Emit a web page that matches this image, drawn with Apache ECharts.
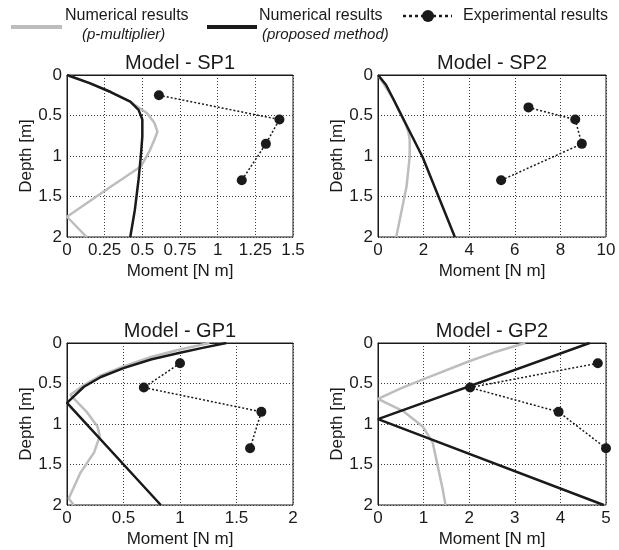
<!DOCTYPE html>
<html>
<head>
<meta charset="utf-8">
<script src="https://cdn.jsdelivr.net/npm/echarts@6/dist/echarts.min.js"></script>
<style>
  html, body { margin: 0; padding: 0; background: #fff; }
  #chart { width: 619px; height: 550px; }
</style>
</head>
<body>
<div id="chart"></div>
<script>
// values, [moment, depth]
const sp1Pmult = [[0, 0], [0.15, 0.1], [0.29, 0.21], [0.42, 0.33], [0.53, 0.47], [0.58, 0.59], [0.6, 0.7], [0.58, 0.8], [0.55, 0.93], [0.49, 1.13], [0.29, 1.38], [0, 1.75], [0.13, 2]];
const sp1Proposed = [[0, 0], [0.15, 0.1], [0.29, 0.21], [0.42, 0.33], [0.475, 0.43], [0.5, 0.55], [0.5, 0.76], [0.49, 1.0], [0.475, 1.29], [0.45, 1.67], [0.42, 2]];
const sp1Exp = [[0.61, 0.25], [1.41, 0.55], [1.32, 0.85], [1.16, 1.3]];

const sp2Pmult = [[0, 0], [0.66, 0.29], [1.2, 0.6], [1.33, 0.7], [1.39, 0.8], [1.39, 1.01], [1.25, 1.38], [0.8, 2]];
const sp2Proposed = [[0, 0], [0.35, 0.12], [0.66, 0.29], [1.25, 0.62], [1.95, 1.01], [3.37, 2]];
const sp2Exp = [[6.6, 0.4], [8.65, 0.55], [8.94, 0.85], [5.4, 1.3]];

const gp1Pmult = [[1.26, 0], [1.0, 0.08], [0.75, 0.17], [0.5, 0.29], [0.3, 0.4], [0.15, 0.52], [0.03, 0.64], [0.07, 0.7], [0.18, 0.86], [0.27, 1.03], [0.29, 1.15], [0.24, 1.35], [0.12, 1.6], [0.015, 1.92], [0.06, 2]];
const gp1Proposed = [[1.41, 0], [1.2, 0.06], [1.0, 0.12], [0.75, 0.2], [0.5, 0.31], [0.3, 0.42], [0.15, 0.54], [0.06, 0.66], [0, 0.74], [0.83, 2]];
const gp1Exp = [[1.0, 0.25], [0.68, 0.55], [1.72, 0.85], [1.62, 1.3]];

const gp2Pmult = [[3.23, 0], [2.55, 0.115], [2.0, 0.225], [1.0, 0.445], [0.5, 0.56], [0, 0.69], [0.55, 0.84], [0.98, 1.03], [1.2, 1.23], [1.31, 1.52], [1.42, 1.81], [1.48, 2]];
const gp2Proposed = [[4.64, 0], [0, 0.94], [4.95, 2]];
const gp2Exp = [[4.82, 0.25], [2.02, 0.55], [3.96, 0.85], [5.0, 1.3]];

const titles = ['Model - SP1', 'Model - SP2', 'Model - GP1', 'Model - GP2'];
const xMax = [1.5, 10, 2, 5];
const xStep = [0.25, 2, 0.5, 1];
const pmult = [sp1Pmult, sp2Pmult, gp1Pmult, gp2Pmult];
const proposed = [sp1Proposed, sp2Proposed, gp1Proposed, gp2Proposed];
const experimental = [sp1Exp, sp2Exp, gp1Exp, gp2Exp];

const font = 'Liberation Sans, Arial, sans-serif';
// plot boxes [left, top, width, height]
const boxes = [[67, 75, 226, 162], [378, 75, 228, 162], [67, 343, 226, 162], [378, 343, 228, 162]];

const grid = [], xAxis = [], yAxis = [], series = [], title = [];
boxes.forEach(function (b, i) {
    grid.push({ left: b[0], top: b[1], width: b[2], height: b[3], show: true, borderColor: '#1a1a1a', borderWidth: 1 });
    title.push({
        text: titles[i], left: b[0] + b[2] / 2, top: b[1] - 22, textAlign: 'center', padding: 0,
        textStyle: { fontFamily: font, fontSize: 20, fontWeight: 'normal', color: '#1a1a1a' }
    });
    xAxis.push({
        type: 'value', gridIndex: i, min: 0, max: xMax[i], interval: xStep[i],
        name: 'Moment [N m]', nameLocation: 'middle', nameGap: 26,
        nameTextStyle: { fontFamily: font, fontSize: 17, color: '#1a1a1a' },
        axisLine: { show: true, lineStyle: { color: '#1a1a1a' } },
        axisTick: { show: false },
        axisLabel: { fontFamily: font, fontSize: 17, color: '#1a1a1a', margin: 5 },
        splitLine: { show: true, lineStyle: { color: '#3a3a3a', type: [1, 2], width: 1 } }
    });
    yAxis.push({
        type: 'value', gridIndex: i, min: 0, max: 2, interval: 0.5, inverse: true,
        name: 'Depth [m]', nameLocation: 'middle', nameGap: 32, nameRotate: 90,
        nameTextStyle: { fontFamily: font, fontSize: 17, color: '#1a1a1a' },
        axisLine: { show: true, lineStyle: { color: '#1a1a1a' } },
        axisTick: { show: false },
        axisLabel: { fontFamily: font, fontSize: 17, color: '#1a1a1a', margin: 5 },
        splitLine: { show: true, lineStyle: { color: '#3a3a3a', type: [1, 2], width: 1 } }
    });
    series.push({
        type: 'line', xAxisIndex: i, yAxisIndex: i, data: pmult[i], showSymbol: false,
        lineStyle: { color: '#bdbdbd', width: 2.5 }, animation: false
    });
    series.push({
        type: 'line', xAxisIndex: i, yAxisIndex: i, data: proposed[i], showSymbol: false,
        lineStyle: { color: '#1a1a1a', width: 2.5 }, animation: false
    });
    series.push({
        type: 'line', xAxisIndex: i, yAxisIndex: i, data: experimental[i], clip: false,
        symbol: 'circle', symbolSize: 10, itemStyle: { color: '#1a1a1a' },
        lineStyle: { color: '#1a1a1a', width: 1.5, type: [2, 2] }, animation: false
    });
});

const legendText = function (text, x, y, size, italic) {
    return {
        type: 'text',
        style: { text: text, x: x, y: y, fill: '#1a1a1a', verticalAlign: 'middle',
            font: (italic ? 'italic ' : '') + size + 'px ' + font }
    };
};

const graphic = [
    { type: 'line', shape: { x1: 11, y1: 27, x2: 62, y2: 27 }, style: { stroke: '#bdbdbd', lineWidth: 4 } },
    legendText('Numerical results', 65, 16, 16, false),
    legendText('(p-multiplier)', 82, 35, 15, true),
    { type: 'line', shape: { x1: 207, y1: 27, x2: 257, y2: 27 }, style: { stroke: '#1a1a1a', lineWidth: 4 } },
    legendText('Numerical results', 259, 16, 16, false),
    legendText('(proposed method)', 262, 35, 15, true),
    { type: 'line', shape: { x1: 403, y1: 16, x2: 452, y2: 16 }, style: { stroke: '#1a1a1a', lineWidth: 2.5, lineDash: [3, 3] } },
    { type: 'circle', shape: { cx: 428, cy: 16, r: 6 }, style: { fill: '#1a1a1a' } },
    legendText('Experimental results', 463, 16, 16, false)
];

const chart = echarts.init(document.getElementById('chart'));
chart.setOption({
    animation: false,
    title: title,
    grid: grid,
    xAxis: xAxis,
    yAxis: yAxis,
    series: series,
    graphic: graphic
});
</script>
</body>
</html>
